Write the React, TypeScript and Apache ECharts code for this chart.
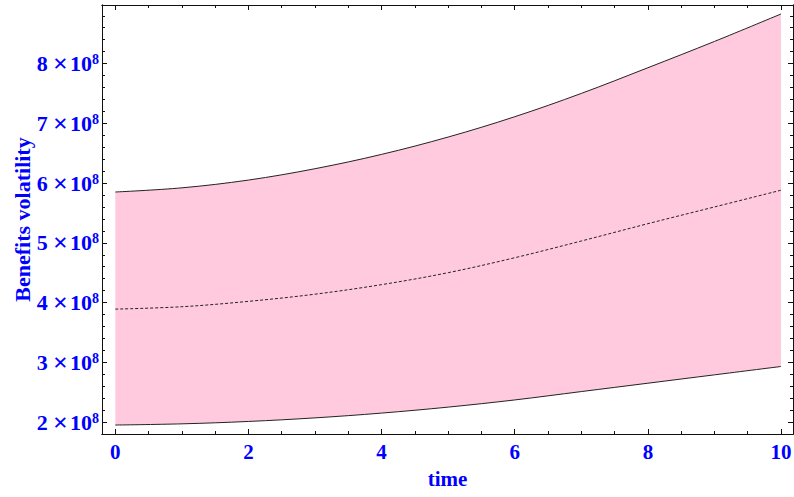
import React, { useEffect, useRef } from "react";
import * as echarts from "echarts";

// ---- data ----
const times = [0, 1, 2, 3, 4, 5, 6, 7, 8, 9, 10];
const upperBound = [5.85e8, 5.92e8, 6.05e8, 6.24e8, 6.48e8, 6.77e8, 7.11e8, 7.5e8, 7.93e8, 8.37e8, 8.83e8];
const meanLine = [3.89e8, 3.93e8, 4.02e8, 4.14e8, 4.3e8, 4.5e8, 4.75e8, 5.03e8, 5.32e8, 5.6e8, 5.88e8];
const lowerBound = [1.95e8, 1.97e8, 2.01e8, 2.07e8, 2.15e8, 2.25e8, 2.37e8, 2.51e8, 2.65e8, 2.79e8, 2.93e8];

const xMajorTicks = [0, 2, 4, 6, 8, 10];
const yMajorTicks = [2e8, 3e8, 4e8, 5e8, 6e8, 7e8, 8e8];

const X_MIN = -0.2;
const X_MAX = 10.18;
const Y_MIN = 1.8e8;
const Y_MAX = 8.98e8;

const BLUE = "#0000ff";
const FONT = "'Liberation Serif', 'Times New Roman', serif";

export default function App() {
  const ref = useRef<HTMLDivElement>(null);

  useEffect(() => {
    if (!ref.current) return;
    const chart = echarts.init(ref.current, undefined, { renderer: "svg" });

    const xMinorTicks: number[] = [];
    for (let k = 1; k <= 19; k++) {
      const v = k * 0.5;
      if (!xMajorTicks.includes(v)) xMinorTicks.push(v);
    }
    const yMinorTicks: number[] = [];
    for (let k = 9; k <= 44; k++) {
      if (k % 5 !== 0) yMinorTicks.push(k * 2e7);
    }

    const lineStyle = { color: "#111", width: 1 };

    const baseAxis = (extra: any) => ({
      type: "value",
      z: 10,
      splitLine: { show: false },
      axisLine: { show: true, onZero: false, lineStyle },
      ...extra,
    });

    const xAxisCommon = { min: X_MIN, max: X_MAX };
    const yAxisCommon = { min: Y_MIN, max: Y_MAX };

    const xAxes = [
      baseAxis({
        ...xAxisCommon,
        position: "bottom",
        name: "time",
        nameLocation: "middle",
        nameGap: 34,
        nameMoveOverlap: false,
        nameTextStyle: { color: BLUE, fontFamily: FONT, fontWeight: "bold", fontSize: 21 },
        axisTick: { show: true, inside: true, length: 5, customValues: xMajorTicks, lineStyle },
        axisLabel: {
          show: true,
          customValues: xMajorTicks,
          color: BLUE,
          fontFamily: FONT,
          fontWeight: "bold",
          fontSize: 21,
          margin: 7,
        },
      }),
      baseAxis({
        ...xAxisCommon,
        position: "bottom",
        axisTick: { show: true, inside: true, length: 3, customValues: xMinorTicks, lineStyle },
        axisLabel: { show: false },
      }),
      baseAxis({
        ...xAxisCommon,
        position: "top",
        axisTick: { show: true, inside: true, length: 5, customValues: xMajorTicks, lineStyle },
        axisLabel: { show: false },
      }),
      baseAxis({
        ...xAxisCommon,
        position: "top",
        axisTick: { show: true, inside: true, length: 3, customValues: xMinorTicks, lineStyle },
        axisLabel: { show: false },
      }),
    ];

    const yAxes = [
      baseAxis({
        ...yAxisCommon,
        position: "left",
        name: "Benefits volatility",
        nameLocation: "middle",
        nameGap: 69,
        nameMoveOverlap: false,
        nameTextStyle: { color: BLUE, fontFamily: FONT, fontWeight: "bold", fontSize: 22 },
        axisTick: { show: true, inside: true, length: 5, customValues: yMajorTicks, lineStyle },
        axisLabel: {
          show: true,
          customValues: yMajorTicks,
          margin: 3,
          formatter: (v: number) => {
            const exp = Math.floor(Math.log10(v) + 1e-9);
            const mant = Math.round((v / Math.pow(10, exp)) * 100) / 100;
            return `{n|${mant}}{x|\u2009×\u200a}{n|10}{s|${exp}}`;
          },
          rich: {
            n: { color: BLUE, fontFamily: FONT, fontWeight: "bold", fontSize: 22, verticalAlign: "middle", lineHeight: 22 },
            x: { color: BLUE, fontFamily: FONT, fontWeight: "bold", fontSize: 26, verticalAlign: "middle", lineHeight: 22 },
            s: { color: BLUE, fontFamily: FONT, fontWeight: "bold", fontSize: 14, verticalAlign: "top", lineHeight: 14 },
          },
        },
      }),
      baseAxis({
        ...yAxisCommon,
        position: "left",
        axisTick: { show: true, inside: true, length: 3, customValues: yMinorTicks, lineStyle },
        axisLabel: { show: false },
      }),
      baseAxis({
        ...yAxisCommon,
        position: "right",
        axisTick: { show: true, inside: true, length: 5, customValues: yMajorTicks, lineStyle },
        axisLabel: { show: false },
      }),
      baseAxis({
        ...yAxisCommon,
        position: "right",
        axisTick: { show: true, inside: true, length: 3, customValues: yMinorTicks, lineStyle },
        axisLabel: { show: false },
      }),
    ];

    const lowerData = times.map((t, i) => [t, lowerBound[i]]);
    const upperData = times.map((t, i) => [t, upperBound[i]]);
    const meanData = times.map((t, i) => [t, meanLine[i]]);

    chart.setOption({
      animation: false,
      grid: { left: 102, right: 1, top: 5, bottom: 63, containLabel: false, outerBoundsMode: "none" },
      xAxis: xAxes,
      yAxis: yAxes,
      series: [
        {
          type: "line",
          name: "upper",
          data: upperData,
          smooth: 0.35,
          symbol: "none",
          lineStyle: { color: "#222", width: 1 },
          areaStyle: { color: "#ffcade", opacity: 1, origin: "start" },
          z: 2,
        },
        {
          type: "line",
          name: "lower",
          data: lowerData,
          smooth: 0.35,
          symbol: "none",
          lineStyle: { color: "#222", width: 1 },
          areaStyle: { color: "#ffffff", opacity: 1, origin: "start" },
          z: 3,
        },
        {
          type: "line",
          name: "mean",
          data: meanData,
          smooth: 0.35,
          symbol: "none",
          lineStyle: { color: "#222", width: 1, type: [3, 2] },
          z: 4,
        },
      ],
    });

    return () => chart.dispose();
  }, []);

  return (
    <div
      ref={ref}
      style={{ position: "fixed", left: 0, top: 0, width: 794, height: 497, background: "#fff" }}
    />
  );
}
